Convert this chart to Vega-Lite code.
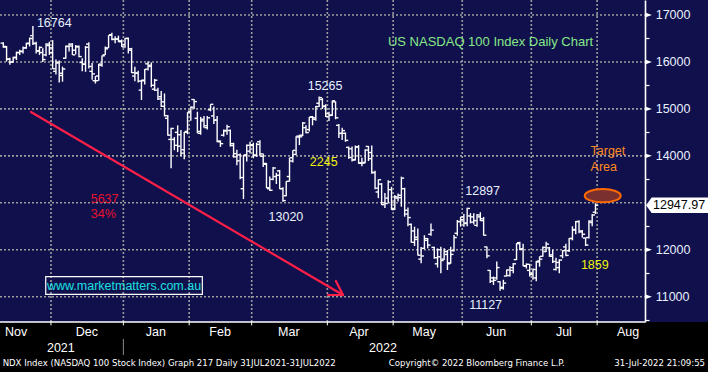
{
  "$schema": "https://vega.github.io/schema/vega-lite/v6.json",
  "width": 708,
  "height": 322,
  "autosize": {"type": "none"},
  "padding": {"left": 0, "top": 0, "right": 0, "bottom": 50},
  "background": "#000000",
  "config": {"view": {"fill": "#10104c", "stroke": null}, "text": {"font": "Liberation Sans"}},
  "datasets": {
    "bars": [
      {"d":0,"o":16400,"h":16420,"l":16300,"c":16330},
      {"d":1,"o":16320,"h":16340,"l":16010,"c":16060},
      {"d":2,"o":16060,"h":16090,"l":15940,"c":15990},
      {"d":3,"o":16000,"h":16110,"l":15990,"c":16090},
      {"d":4,"o":16100,"h":16220,"l":16040,"c":16200},
      {"d":5,"o":16200,"h":16260,"l":16150,"c":16230},
      {"d":6,"o":16220,"h":16330,"l":16180,"c":16300},
      {"d":7,"o":16300,"h":16410,"l":16280,"c":16390},
      {"d":8,"o":16400,"h":16520,"l":16330,"c":16500},
      {"d":9,"o":16560,"h":16764,"l":16360,"c":16400},
      {"d":10,"o":16390,"h":16430,"l":16180,"c":16240},
      {"d":11,"o":16230,"h":16330,"l":16150,"c":16310},
      {"d":12,"o":16200,"h":16290,"l":16000,"c":16050},
      {"d":13,"o":16150,"h":16400,"l":16120,"c":16380},
      {"d":14,"o":16350,"h":16430,"l":16150,"c":16200},
      {"d":15,"o":16300,"h":16465,"l":15852,"c":15854},
      {"d":16,"o":15800,"h":16050,"l":15735,"c":15977},
      {"d":17,"o":15990,"h":16030,"l":15560,"c":15712},
      {"d":18,"o":15760,"h":15900,"l":15580,"c":15850},
      {"d":19,"o":16080,"h":16350,"l":16070,"c":16331},
      {"d":20,"o":16330,"h":16400,"l":16220,"c":16380},
      {"d":21,"o":16340,"h":16400,"l":16150,"c":16151},
      {"d":22,"o":16250,"h":16360,"l":16160,"c":16331},
      {"d":23,"o":16320,"h":16350,"l":16100,"c":16115},
      {"d":24,"o":15990,"h":16080,"l":15800,"c":15954},
      {"d":25,"o":15950,"h":16340,"l":15790,"c":16313},
      {"d":26,"o":16380,"h":16420,"l":15860,"c":15904},
      {"d":27,"o":15800,"h":15980,"l":15620,"c":15746},
      {"d":28,"o":15600,"h":15700,"l":15540,"c":15601},
      {"d":29,"o":15700,"h":15960,"l":15600,"c":15955},
      {"d":30,"o":15930,"h":16140,"l":15900,"c":16130},
      {"d":31,"o":16150,"h":16330,"l":16150,"c":16279},
      {"d":32,"o":16300,"h":16570,"l":16300,"c":16567},
      {"d":33,"o":16580,"h":16620,"l":16460,"c":16481},
      {"d":34,"o":16480,"h":16550,"l":16400,"c":16487},
      {"d":35,"o":16490,"h":16560,"l":16420,"c":16449},
      {"d":36,"o":16430,"h":16480,"l":16320,"c":16320},
      {"d":37,"o":16370,"h":16510,"l":16300,"c":16501},
      {"d":38,"o":16500,"h":16520,"l":16180,"c":16281},
      {"d":39,"o":16250,"h":16300,"l":15765,"c":15771},
      {"d":40,"o":15700,"h":15900,"l":15590,"c":15765},
      {"d":41,"o":15760,"h":15810,"l":15560,"c":15593},
      {"d":42,"o":15400,"h":15620,"l":15190,"c":15613},
      {"d":43,"o":15600,"h":15850,"l":15520,"c":15845},
      {"d":44,"o":15960,"h":16010,"l":15820,"c":15905},
      {"d":45,"o":15930,"h":15990,"l":15460,"c":15503},
      {"d":46,"o":15420,"h":15640,"l":15380,"c":15611},
      {"d":47,"o":15400,"h":15450,"l":15190,"c":15212},
      {"d":48,"o":15260,"h":15380,"l":15040,"c":15055},
      {"d":49,"o":15150,"h":15330,"l":14840,"c":14855},
      {"d":50,"o":14800,"h":14870,"l":14430,"c":14441},
      {"d":51,"o":14350,"h":14600,"l":13734,"c":14583},
      {"d":52,"o":14350,"h":14400,"l":14120,"c":14224},
      {"d":53,"o":14500,"h":14650,"l":14080,"c":14205},
      {"d":54,"o":14450,"h":14550,"l":13990,"c":14058},
      {"d":55,"o":14130,"h":14510,"l":13930,"c":14503},
      {"d":56,"o":14520,"h":14930,"l":14460,"c":14930},
      {"d":57,"o":14950,"h":15050,"l":14750,"c":15037},
      {"d":58,"o":15200,"h":15210,"l":15000,"c":15156},
      {"d":59,"o":14800,"h":14940,"l":14480,"c":14520},
      {"d":60,"o":14480,"h":14830,"l":14450,"c":14745},
      {"d":61,"o":14780,"h":14850,"l":14600,"c":14640},
      {"d":62,"o":14600,"h":14850,"l":14560,"c":14810},
      {"d":63,"o":14980,"h":15100,"l":14950,"c":15098},
      {"d":64,"o":14850,"h":15050,"l":14680,"c":14763},
      {"d":65,"o":14760,"h":14850,"l":14290,"c":14316},
      {"d":66,"o":14300,"h":14330,"l":14190,"c":14260},
      {"d":67,"o":14440,"h":14560,"l":14410,"c":14540},
      {"d":68,"o":14530,"h":14660,"l":14450,"c":14620},
      {"d":69,"o":14540,"h":14560,"l":14200,"c":14219},
      {"d":70,"o":14260,"h":14280,"l":13960,"c":14047},
      {"d":71,"o":13980,"h":14130,"l":13800,"c":13894},
      {"d":72,"o":14020,"h":14050,"l":13500,"c":13538},
      {"d":73,"o":13300,"h":14020,"l":13080,"c":14011},
      {"d":74,"o":14020,"h":14240,"l":13880,"c":14224},
      {"d":75,"o":14100,"h":14300,"l":14050,"c":14237},
      {"d":76,"o":14220,"h":14280,"l":13950,"c":14005},
      {"d":77,"o":14020,"h":14280,"l":13980,"c":14244},
      {"d":78,"o":14300,"h":14330,"l":13990,"c":14042},
      {"d":79,"o":13990,"h":14050,"l":13760,"c":13838},
      {"d":80,"o":13820,"h":13850,"l":13310,"c":13320},
      {"d":81,"o":13300,"h":13560,"l":13250,"c":13267},
      {"d":82,"o":13500,"h":13760,"l":13480,"c":13741},
      {"d":83,"o":13560,"h":13640,"l":13400,"c":13586},
      {"d":84,"o":13680,"h":13700,"l":13290,"c":13302},
      {"d":85,"o":13300,"h":13330,"l":13020,"c":13047},
      {"d":86,"o":13150,"h":13460,"l":13140,"c":13458},
      {"d":87,"o":13560,"h":13960,"l":13450,"c":13960},
      {"d":88,"o":13890,"h":14120,"l":13860,"c":14117},
      {"d":89,"o":14030,"h":14420,"l":14020,"c":14420},
      {"d":90,"o":14400,"h":14450,"l":14230,"c":14406},
      {"d":91,"o":14440,"h":14720,"l":14420,"c":14699},
      {"d":92,"o":14600,"h":14650,"l":14480,"c":14495},
      {"d":93,"o":14560,"h":14830,"l":14520,"c":14826},
      {"d":94,"o":14830,"h":14850,"l":14650,"c":14810},
      {"d":95,"o":14780,"h":15060,"l":14750,"c":15050},
      {"d":96,"o":15120,"h":15265,"l":15040,"c":15240},
      {"d":97,"o":15200,"h":15230,"l":15000,"c":15062},
      {"d":98,"o":15050,"h":15100,"l":14830,"c":14838},
      {"d":99,"o":14900,"h":14940,"l":14740,"c":14861},
      {"d":100,"o":14870,"h":15180,"l":14850,"c":15173},
      {"d":101,"o":15150,"h":15160,"l":14780,"c":14811},
      {"d":102,"o":14650,"h":14680,"l":14380,"c":14478},
      {"d":103,"o":14480,"h":14600,"l":14340,"c":14537},
      {"d":104,"o":14480,"h":14500,"l":14300,"c":14329},
      {"d":105,"o":14180,"h":14200,"l":13940,"c":13965},
      {"d":106,"o":14150,"h":14200,"l":13880,"c":13910},
      {"d":107,"o":13920,"h":14220,"l":13900,"c":14190},
      {"d":108,"o":14190,"h":14230,"l":13830,"c":13851},
      {"d":109,"o":13840,"h":13960,"l":13780,"c":13845},
      {"d":110,"o":13860,"h":14140,"l":13840,"c":14123},
      {"d":111,"o":14200,"h":14210,"l":13890,"c":13940},
      {"d":112,"o":14070,"h":14220,"l":13620,"c":13649},
      {"d":113,"o":13640,"h":13680,"l":13290,"c":13311},
      {"d":114,"o":13230,"h":13500,"l":13100,"c":13491},
      {"d":115,"o":13400,"h":13420,"l":12950,"c":12960},
      {"d":116,"o":13000,"h":13210,"l":12890,"c":12984},
      {"d":117,"o":13100,"h":13480,"l":12990,"c":13446},
      {"d":118,"o":13280,"h":13340,"l":12850,"c":12855},
      {"d":119,"o":12880,"h":13166,"l":12846,"c":13127},
      {"d":120,"o":13100,"h":13200,"l":13030,"c":13160},
      {"d":121,"o":13110,"h":13557,"l":12917,"c":13526},
      {"d":122,"o":13300,"h":13320,"l":12705,"c":12841},
      {"d":123,"o":12760,"h":12900,"l":12500,"c":12685},
      {"d":124,"o":12540,"h":12560,"l":12150,"c":12158},
      {"d":125,"o":12400,"h":12490,"l":12080,"c":12267},
      {"d":126,"o":12220,"h":12450,"l":11880,"c":11883},
      {"d":127,"o":11800,"h":12060,"l":11710,"c":11867},
      {"d":128,"o":12030,"h":12310,"l":12010,"c":12238},
      {"d":129,"o":12200,"h":12250,"l":12030,"c":12099},
      {"d":130,"o":12330,"h":12560,"l":12300,"c":12418},
      {"d":131,"o":12050,"h":12065,"l":11810,"c":11830},
      {"d":132,"o":11700,"h":12030,"l":11620,"c":11850},
      {"d":133,"o":12000,"h":12065,"l":11497,"c":11770},
      {"d":134,"o":11800,"h":12030,"l":11780,"c":11960},
      {"d":135,"o":11900,"h":11994,"l":11568,"c":11700},
      {"d":136,"o":11720,"h":12065,"l":11700,"c":11900},
      {"d":137,"o":11980,"h":12314,"l":11960,"c":12260},
      {"d":138,"o":12350,"h":12633,"l":12300,"c":12600},
      {"d":139,"o":12600,"h":12704,"l":12491,"c":12640},
      {"d":140,"o":12700,"h":12760,"l":12490,"c":12570},
      {"d":141,"o":12560,"h":12897,"l":12500,"c":12880},
      {"d":142,"o":12720,"h":12780,"l":12560,"c":12590},
      {"d":143,"o":12700,"h":12780,"l":12540,"c":12620},
      {"d":144,"o":12520,"h":12760,"l":12490,"c":12740},
      {"d":145,"o":12700,"h":12800,"l":12610,"c":12660},
      {"d":146,"o":12620,"h":12700,"l":12300,"c":12310},
      {"d":147,"o":12060,"h":12070,"l":11820,"c":11870},
      {"d":148,"o":11560,"h":11570,"l":11290,"c":11330},
      {"d":149,"o":11400,"h":11430,"l":11250,"c":11350},
      {"d":150,"o":11400,"h":11750,"l":11360,"c":11620},
      {"d":151,"o":11320,"h":11330,"l":11127,"c":11180},
      {"d":152,"o":11200,"h":11360,"l":11150,"c":11290},
      {"d":153,"o":11440,"h":11580,"l":11430,"c":11570},
      {"d":154,"o":11450,"h":11650,"l":11430,"c":11560},
      {"d":155,"o":11620,"h":11720,"l":11500,"c":11700},
      {"d":156,"o":11790,"h":12140,"l":11780,"c":12130},
      {"d":157,"o":12150,"h":12170,"l":11990,"c":12010},
      {"d":158,"o":12020,"h":12130,"l":11650,"c":11660},
      {"d":159,"o":11650,"h":11710,"l":11600,"c":11690},
      {"d":160,"o":11560,"h":11700,"l":11430,"c":11500},
      {"d":161,"o":11470,"h":11600,"l":11360,"c":11580},
      {"d":162,"o":11400,"h":11760,"l":11330,"c":11740},
      {"d":163,"o":11760,"h":11860,"l":11640,"c":11800},
      {"d":164,"o":11860,"h":12070,"l":11850,"c":12050},
      {"d":165,"o":11960,"h":12170,"l":11950,"c":12120},
      {"d":166,"o":12040,"h":12060,"l":11850,"c":11860},
      {"d":167,"o":11890,"h":12000,"l":11720,"c":11750},
      {"d":168,"o":11580,"h":11830,"l":11560,"c":11730},
      {"d":169,"o":11620,"h":11800,"l":11500,"c":11780},
      {"d":170,"o":11870,"h":11990,"l":11820,"c":11980},
      {"d":171,"o":12060,"h":12130,"l":11860,"c":11880},
      {"d":172,"o":11980,"h":12250,"l":11950,"c":12240},
      {"d":173,"o":12240,"h":12500,"l":12200,"c":12430},
      {"d":174,"o":12420,"h":12610,"l":12330,"c":12600},
      {"d":175,"o":12600,"h":12630,"l":12350,"c":12400},
      {"d":176,"o":12380,"h":12420,"l":12260,"c":12330},
      {"d":177,"o":12250,"h":12260,"l":12080,"c":12100},
      {"d":178,"o":12260,"h":12630,"l":12240,"c":12610},
      {"d":179,"o":12580,"h":12760,"l":12500,"c":12740},
      {"d":180,"o":12800,"h":12990,"l":12760,"c":12948}
    ],
    "monthStarts": [{"d":14.5},{"d":36.5},{"d":56.5},{"d":75.5},{"d":98.5},{"d":118.5},{"d":139.5},{"d":160.5},{"d":180.5}],
    "yLabels": [{"v":11000,"t":"11000"},{"v":12000,"t":"12000"},{"v":14000,"t":"14000"},{"v":15000,"t":"15000"},{"v":16000,"t":"16000"},{"v":17000,"t":"17000"}]
  },
  "layer": [
    {
      "data": {"values": [{"v":11000},{"v":12000},{"v":13000},{"v":14000},{"v":15000},{"v":16000},{"v":17000}]},
      "mark": {"type": "rule", "color": "#9c9c9c", "strokeWidth": 1.6, "strokeDash": [2, 2]},
      "encoding": {
        "y": {"field": "v", "type": "quantitative", "scale": {"domain": [10461, 17319.5], "nice": false, "zero": false},
          "axis": {"orient": "right", "offset": -63, "title": null, "grid": false, "labels": false,
            "values": [10500,11000,11500,12000,12500,13000,13500,14000,14500,15000,15500,16000,16500,17000],
            "domainColor": "#ffffff", "domainWidth": 1.6, "tickColor": "#ffffff", "tickSize": 4, "tickWidth": 1.2}},
        "x": {"datum": -1, "scale": {"domain": [-1, 214.2], "nice": false, "zero": false}, "axis": null},
        "x2": {"datum": 195.05}
      }
    },
    {
      "data": {"name": "monthStarts"},
      "mark": {"type": "rule", "color": "#9c9c9c", "strokeWidth": 1.6, "strokeDash": [2, 2]},
      "encoding": {
        "x": {"field": "d", "type": "quantitative", "axis": null}
      }
    },
    {
      "data": {"name": "monthStarts"},
      "mark": {"type": "rule", "color": "#ffffff", "strokeWidth": 1},
      "encoding": {
        "x": {"field": "d", "type": "quantitative", "axis": null},
        "y": {"datum": 10461},
        "y2": {"datum": 10390}
      }
    },
    {
      "data": {"values": [{"v": 10461}]},
      "mark": {"type": "rule", "color": "#ffffff", "strokeWidth": 1.5},
      "encoding": {
        "y": {"field": "v", "type": "quantitative"},
        "x": {"datum": -1, "axis": null},
        "x2": {"datum": 195.05}
      }
    },
    {
      "data": {"name": "bars"},
      "mark": {"type": "rule", "color": "#ffffff", "strokeWidth": 1.4},
      "encoding": {
        "x": {"field": "d", "type": "quantitative", "axis": null},
        "y": {"field": "l", "type": "quantitative"},
        "y2": {"field": "h"}
      }
    },
    {
      "data": {"name": "bars"},
      "mark": {"type": "tick", "orient": "horizontal", "color": "#ffffff", "size": 2.6, "thickness": 1.4, "xOffset": -1.5, "opacity": 1},
      "encoding": {
        "x": {"field": "d", "type": "quantitative", "axis": null},
        "y": {"field": "o", "type": "quantitative"}
      }
    },
    {
      "data": {"name": "bars"},
      "mark": {"type": "tick", "orient": "horizontal", "color": "#ffffff", "size": 2.6, "thickness": 1.4, "xOffset": 1.5, "opacity": 1},
      "encoding": {
        "x": {"field": "d", "type": "quantitative", "axis": null},
        "y": {"field": "c", "type": "quantitative"}
      }
    },
    {
      "data": {"name": "yLabels"},
      "mark": {"type": "point", "shape": "M -1 -0.7 L 1 0 L -1 0.7 Z", "size": 49, "filled": true, "color": "#ffffff", "opacity": 1},
      "encoding": {
        "y": {"field": "v", "type": "quantitative"},
        "x": {"datum": 196.1, "axis": null}
      }
    },
    {
      "data": {"name": "yLabels"},
      "mark": {"type": "text", "color": "#e8f0ff", "fontSize": 12.5, "align": "left", "baseline": "middle"},
      "encoding": {
        "y": {"field": "v", "type": "quantitative"},
        "x": {"datum": 198.3, "axis": null},
        "text": {"field": "t"}
      }
    },
    {
      "data": {"values": [{"x1": 8.42, "y1": 14934, "x2": 103.25, "y2": 11036}, {"x1": 101.1, "y1": 11334, "x2": 103.25, "y2": 11036}, {"x1": 98.7, "y1": 11036, "x2": 103.25, "y2": 11036}]},
      "mark": {"type": "rule", "color": "#ff1f48", "strokeWidth": 2.2, "strokeCap": "round"},
      "encoding": {
        "x": {"field": "x1", "type": "quantitative", "axis": null},
        "y": {"field": "y1", "type": "quantitative"},
        "x2": {"field": "x2"},
        "y2": {"field": "y2"}
      }
    },
    {
      "data": {"values": [{"x": 182.2, "v": 13151}]},
      "mark": {"type": "point", "shape": "M -1 0 A 1 0.37 0 1 0 1 0 A 1 0.37 0 1 0 -1 0 Z", "size": 1296, "filled": true, "fill": "#7b3030", "stroke": "#ff6a00", "strokeWidth": 2, "opacity": 1},
      "encoding": {
        "x": {"field": "x", "type": "quantitative", "axis": null},
        "y": {"field": "v", "type": "quantitative"}
      }
    },
    {
      "data": {"values": [{"x": 204.8, "v": 12947.97}]},
      "mark": {"type": "point", "shape": "M -1 0 L -0.82 -0.25 L 1 -0.25 L 1 0.25 L -0.82 0.25 Z", "size": 3844, "filled": true, "fill": "#ffffff", "strokeWidth": 0, "opacity": 1},
      "encoding": {
        "x": {"field": "x", "type": "quantitative", "axis": null},
        "y": {"field": "v", "type": "quantitative"}
      }
    },
    {
      "data": {"values": [{"t": "12947.97", "x": 205.4, "v": 12947.97}]},
      "mark": {"type": "text", "color": "#000000", "fontSize": 12.5, "align": "center", "baseline": "middle"},
      "encoding": {
        "x": {"field": "x", "type": "quantitative", "axis": null},
        "y": {"field": "v", "type": "quantitative"},
        "text": {"field": "t"}
      }
    },
    {
      "data": {"values": [{"x0": 12.9, "x1": 60.5, "y0": 11426, "y1": 11051}]},
      "mark": {"type": "rect", "fillOpacity": 0, "stroke": "#ffffff", "strokeWidth": 1.2},
      "encoding": {
        "x": {"field": "x0", "type": "quantitative", "axis": null},
        "x2": {"field": "x1"},
        "y": {"field": "y0", "type": "quantitative"},
        "y2": {"field": "y1"}
      }
    },
    {
      "data": {"values": [{"t": "www.marketmatters.com.au", "x": 36.7, "v": 11238}]},
      "mark": {"type": "text", "color": "#19e0e0", "fontSize": 12.5, "align": "center", "baseline": "middle"},
      "encoding": {
        "x": {"field": "x", "type": "quantitative", "axis": null},
        "y": {"field": "v", "type": "quantitative"},
        "text": {"field": "t"}
      }
    },
    {
      "data": {"values": [
        {"t": "16764", "x": 15.5, "v": 16840},
        {"t": "15265", "x": 97.8, "v": 15494},
        {"t": "13020", "x": 85.9, "v": 12704},
        {"t": "12897", "x": 145.7, "v": 13255},
        {"t": "11127", "x": 146.6, "v": 10817}
      ]},
      "mark": {"type": "text", "color": "#e8f0ff", "fontSize": 12.5, "align": "center", "baseline": "middle"},
      "encoding": {
        "x": {"field": "x", "type": "quantitative", "axis": null},
        "y": {"field": "v", "type": "quantitative"},
        "text": {"field": "t"}
      }
    },
    {
      "data": {"values": [{"t": "2245", "x": 97.4, "v": 13869}, {"t": "1859", "x": 179.8, "v": 11668}]},
      "mark": {"type": "text", "color": "#f2f20a", "fontSize": 12.5, "align": "center", "baseline": "middle"},
      "encoding": {
        "x": {"field": "x", "type": "quantitative", "axis": null},
        "y": {"field": "v", "type": "quantitative"},
        "text": {"field": "t"}
      }
    },
    {
      "data": {"values": [{"t": "5637", "x": 30.8, "v": 13087}, {"t": "34%", "x": 30.4, "v": 12755}]},
      "mark": {"type": "text", "color": "#e8132d", "fontSize": 12.5, "align": "center", "baseline": "middle"},
      "encoding": {
        "x": {"field": "x", "type": "quantitative", "axis": null},
        "y": {"field": "v", "type": "quantitative"},
        "text": {"field": "t"}
      }
    },
    {
      "data": {"values": [{"t": "Target", "x": 178.5, "v": 14097}, {"t": "Area", "x": 178.5, "v": 13752}]},
      "mark": {"type": "text", "color": "#ff8a1e", "fontSize": 12.5, "align": "left", "baseline": "middle"},
      "encoding": {
        "x": {"field": "x", "type": "quantitative", "axis": null},
        "y": {"field": "v", "type": "quantitative"},
        "text": {"field": "t"}
      }
    },
    {
      "data": {"values": [{"t": "US NASDAQ 100 Index Daily Chart", "x": 148.1, "v": 16425}]},
      "mark": {"type": "text", "color": "#86e886", "fontSize": 13, "align": "center", "baseline": "middle"},
      "encoding": {
        "x": {"field": "x", "type": "quantitative", "axis": null},
        "y": {"field": "v", "type": "quantitative"},
        "text": {"field": "t"}
      }
    },
    {
      "data": {"values": [
        {"m": "Nov", "x": 3.9}, {"m": "Dec", "x": 25.4}, {"m": "Jan", "x": 46.4}, {"m": "Feb", "x": 65.9},
        {"m": "Mar", "x": 86.8}, {"m": "Apr", "x": 108.1}, {"m": "May", "x": 127.9}, {"m": "Jun", "x": 149.8},
        {"m": "Jul", "x": 170.4}, {"m": "Aug", "x": 189.9}
      ]},
      "mark": {"type": "text", "color": "#ffffff", "fontSize": 12.5, "align": "center", "baseline": "middle"},
      "encoding": {
        "x": {"field": "x", "type": "quantitative", "axis": null},
        "y": {"datum": 10248},
        "text": {"field": "m"}
      }
    },
    {
      "data": {"values": [{"m": "2021", "x": 17.5}, {"m": "2022", "x": 115.4}]},
      "mark": {"type": "text", "color": "#ffffff", "fontSize": 12.5, "align": "center", "baseline": "middle"},
      "encoding": {
        "x": {"field": "x", "type": "quantitative", "axis": null},
        "y": {"datum": 9907},
        "text": {"field": "m"}
      }
    },
    {
      "data": {"values": [{"x": 36.5}]},
      "mark": {"type": "rule", "color": "#8a8a8a", "strokeWidth": 1},
      "encoding": {
        "x": {"field": "x", "type": "quantitative", "axis": null},
        "y": {"datum": 10099},
        "y2": {"datum": 9758}
      }
    },
    {
      "data": {"values": [
        {"t": "NDX Index (NASDAQ 100 Stock Index) Graph 217  Daily 31JUL2021-31JUL2022", "x": -0.2},
        {"t": "Copyright\u00a9 2022 Bloomberg Finance L.P.", "x": 117.2}
      ]},
      "mark": {"type": "text", "color": "#ffffff", "font": "Liberation Sans Narrow, DejaVu Sans Condensed, Liberation Sans", "fontSize": 9.5, "align": "left", "baseline": "middle"},
      "encoding": {
        "x": {"field": "x", "type": "quantitative", "axis": null},
        "y": {"datum": 9588},
        "text": {"field": "t"}
      }
    },
    {
      "data": {"values": [{"t": "31-Jul-2022 21:09:55", "x": 213.3}]},
      "mark": {"type": "text", "color": "#ffffff", "font": "Liberation Sans Narrow, DejaVu Sans Condensed, Liberation Sans", "fontSize": 9.5, "align": "right", "baseline": "middle"},
      "encoding": {
        "x": {"field": "x", "type": "quantitative", "axis": null},
        "y": {"datum": 9588},
        "text": {"field": "t"}
      }
    }
  ]
}
